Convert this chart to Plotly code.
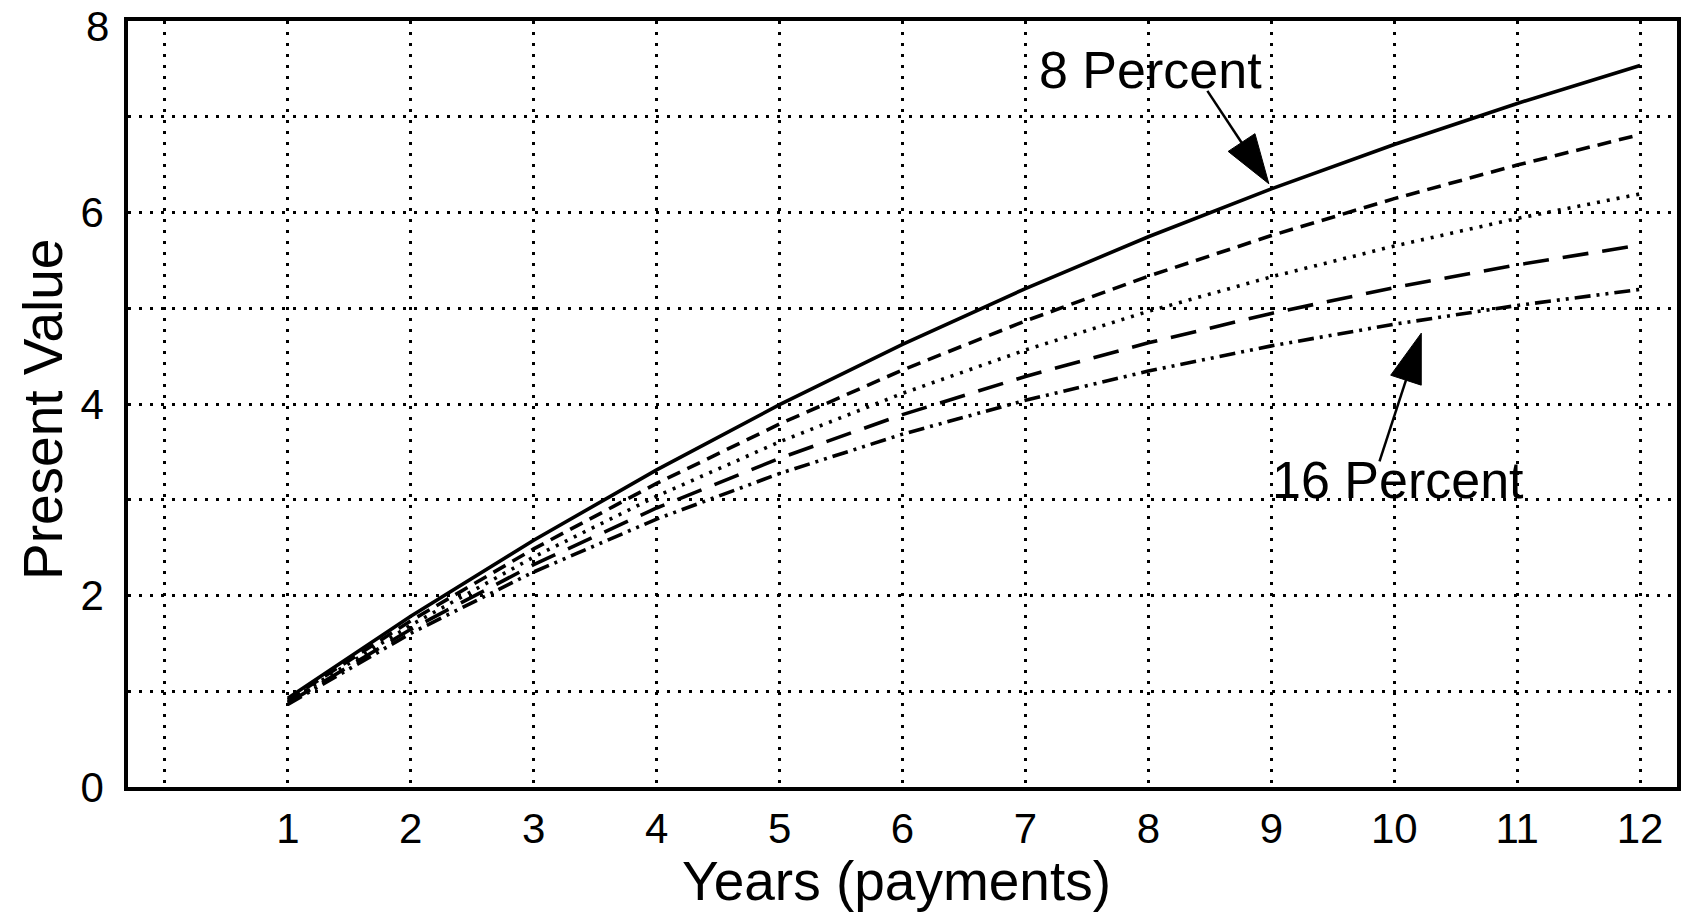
import plotly.graph_objects as go

years = [1, 2, 3, 4, 5, 6, 7, 8, 9, 10, 11, 12]
pv_8 = [0.926, 1.783, 2.577, 3.312, 3.993, 4.623, 5.206, 5.747, 6.247, 6.710, 7.139, 7.536]
pv_10 = [0.909, 1.736, 2.487, 3.170, 3.791, 4.355, 4.868, 5.335, 5.759, 6.145, 6.495, 6.814]
pv_12 = [0.893, 1.690, 2.402, 3.037, 3.605, 4.111, 4.564, 4.968, 5.328, 5.650, 5.938, 6.194]
pv_14 = [0.877, 1.647, 2.322, 2.914, 3.433, 3.889, 4.288, 4.639, 4.946, 5.216, 5.453, 5.660]
pv_16 = [0.862, 1.605, 2.246, 2.798, 3.274, 3.685, 4.039, 4.344, 4.607, 4.833, 5.029, 5.197]

x_tickvals = [0, 1, 2, 3, 4, 5, 6, 7, 8, 9, 10, 11, 12]
x_ticktext = ["", "1", "2", "3", "4", "5", "6", "7", "8", "9", "10", "11", "12"]
y_tickvals = [0, 1, 2, 3, 4, 5, 6, 7, 8]
y_ticktext = ["0", "", "2", "", "4", "", "6", "", ""]
y_top_label = "8"

label_8 = "8 Percent"
label_16 = "16 Percent"
arrow_8 = {"tail": (8.48, 7.27), "tip": (8.98, 6.30)}
arrow_16 = {"tail": (9.88, 3.40), "tip": (10.22, 4.74)}

FONT = "Liberation Sans, Arial, Helvetica, sans-serif"

series = [
    (pv_8, "solid"),
    (pv_10, "14px,8px"),
    (pv_12, "3px,7px"),
    (pv_14, "26px,14px"),
    (pv_16, "16px,6px,3px,6px,3px,6px"),
]

fig = go.Figure()
for vals, dash in series:
    fig.add_trace(go.Scatter(
        x=years, y=vals, mode="lines",
        line=dict(color="black", width=3.6, dash=dash),
        showlegend=False, hoverinfo="skip",
    ))

for arr in (arrow_8, arrow_16):
    fig.add_trace(go.Scatter(
        x=[arr["tail"][0], arr["tip"][0]],
        y=[arr["tail"][1], arr["tip"][1]],
        mode="lines+markers",
        line=dict(color="black", width=2.5),
        marker=dict(symbol=["circle", "arrow"], size=[0.1, 52], color="black",
                    opacity=1, angleref="previous", line=dict(width=1, color="black")),
        showlegend=False, hoverinfo="skip",
    ))

W, H = 1690, 924
L, R, T, B = 128, 13, 21, 137

fig.update_layout(
    width=W, height=H,
    margin=dict(l=L, r=R, t=T, b=B, autoexpand=False),
    paper_bgcolor="white", plot_bgcolor="white",
    font=dict(family=FONT, color="black"),
    xaxis=dict(
        range=[-0.3, 12.3], tickmode="array", tickvals=x_tickvals, ticktext=x_ticktext,
        showgrid=True, gridcolor="black", gridwidth=3, griddash="3px,8px",
        zeroline=False, showline=True, linecolor="black", linewidth=3.5, mirror=True,
        ticks="", tickfont=dict(size=42, family=FONT, color="black"),
        ticklabelstandoff=2, automargin=False, ticklabeloverflow="allow",
    ),
    yaxis=dict(
        range=[0, 8], tickmode="array", tickvals=y_tickvals, ticktext=y_ticktext,
        showgrid=True, gridcolor="black", gridwidth=3, griddash="3px,8px",
        zeroline=False, showline=True, linecolor="black", linewidth=3.5, mirror=True,
        ticks="", tickfont=dict(size=42, family=FONT, color="black"),
        ticklabelstandoff=12, automargin=False, ticklabeloverflow="allow",
    ),
)

# text labels placed by pixel position within the figure
pw, ph = W - L - R, H - T - B
def px(x):
    return (x - L) / pw
def py(y):
    return 1 - (y - T) / ph

texts = [
    (label_8, 1150, 70, 52, 0, "center", "middle"),
    (label_16, 1398, 480, 52, 0, "center", "middle"),
    ("Years (payments)", 896, 914, 55, 0, "center", "bottom"),
    ("Present Value", 43, 410, 55, -90, "center", "middle"),
    (y_top_label, 111, 1, 42, 0, "right", "top"),
]
for txt, x, y, size, ang, xanc, yanc in texts:
    fig.add_annotation(text=txt, x=px(x), y=py(y), xref="paper", yref="paper",
                       showarrow=False, textangle=ang, xanchor=xanc, yanchor=yanc,
                       font=dict(size=size, family=FONT, color="black"))

fig.write_html("out.html", config={"displayModeBar": False},
               post_script="document.body.style.margin='0';")
